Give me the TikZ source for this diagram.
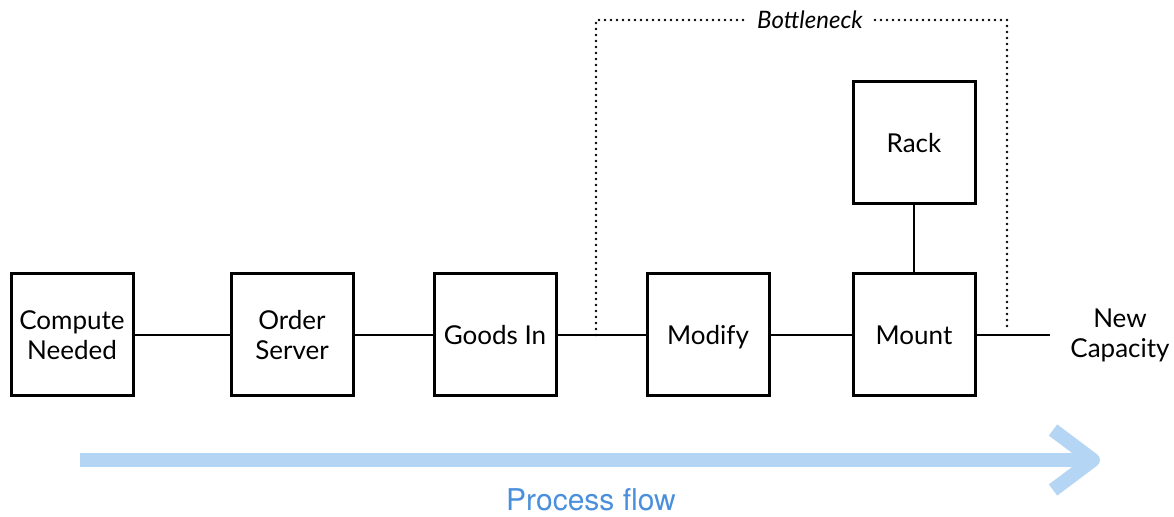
\documentclass[tikz,border=0pt]{standalone}
\usepackage{fontspec}
\setmainfont{Lato}
\newfontfamily\flowfont{TeX Gyre Heros}
\usetikzlibrary{positioning}
\definecolor{FlowBlue}{HTML}{B5D5F5}
\definecolor{FlowText}{HTML}{4A8FDC}

\begin{document}
\begin{tikzpicture}[
  x=0.5pt,y=-0.5pt,
  every node/.style={font=\fontsize{13}{15}\selectfont},
  stage/.style={draw,line width=1.5pt,minimum width=61pt,minimum height=61pt,
    align=center,inner sep=2pt,text depth=0pt},
  link/.style={line width=0.75pt},
  dots/.style={line width=1.4pt,dash pattern=on 0pt off 3pt,line cap=round},
  flowline/.style={line width=7pt,draw=FlowBlue}
]
  \useasboundingbox (0,0) rectangle (1174,517);

  % Stages along the line
  \node[stage] (need)   at (72,335)  {Compute\\Needed};
  \node[stage] (order)  at (292,335) {Order\\Server};
  \node[stage] (goods)  at (495,335) {Goods In};
  \node[stage] (modify) at (708,335) {Modify};
  \node[stage] (mount)  at (914,335) {Mount};
  \node[stage] (rack)   at (914,143) {Rack};
  \node[align=center] (cap) at (1120,335) {New\\Capacity};
  \coordinate (out) at (1050,335);

  \draw[link] (need) -- (order);
  \draw[link] (order) -- (goods);
  \draw[link] (goods) -- (modify);
  \draw[link] (modify) -- (mount);
  \draw[link] (mount) -- (out);
  \draw[link] (rack) -- (mount);

  % Bottleneck bracket
  \coordinate (bnl) at (596,335);
  \coordinate (bnr) at (1007,327);
  \draw[dots] (bnl) -- (596,20) -- (1007,20) -- (bnr);
  \node[fill=white,font=\itshape\fontsize{12}{14}\selectfont,inner xsep=5pt]
    (bneck) at (810,20) {Bottleneck};

  % Process flow arrow
  \coordinate (flowstart) at (80,460);
  \coordinate (flowend) at (1093,460);
  \draw[flowline] (flowstart) -- (flowend);
  \draw[flowline,line join=round]
    ([shift={(-40,-30)}]flowend) -- (flowend) -- ([shift={(-40,30)}]flowend);
  \node[font=\flowfont\fontsize{15}{18}\selectfont,text=FlowText]
    (flow) at (591,500) {Process flow};
\end{tikzpicture}
\end{document}
